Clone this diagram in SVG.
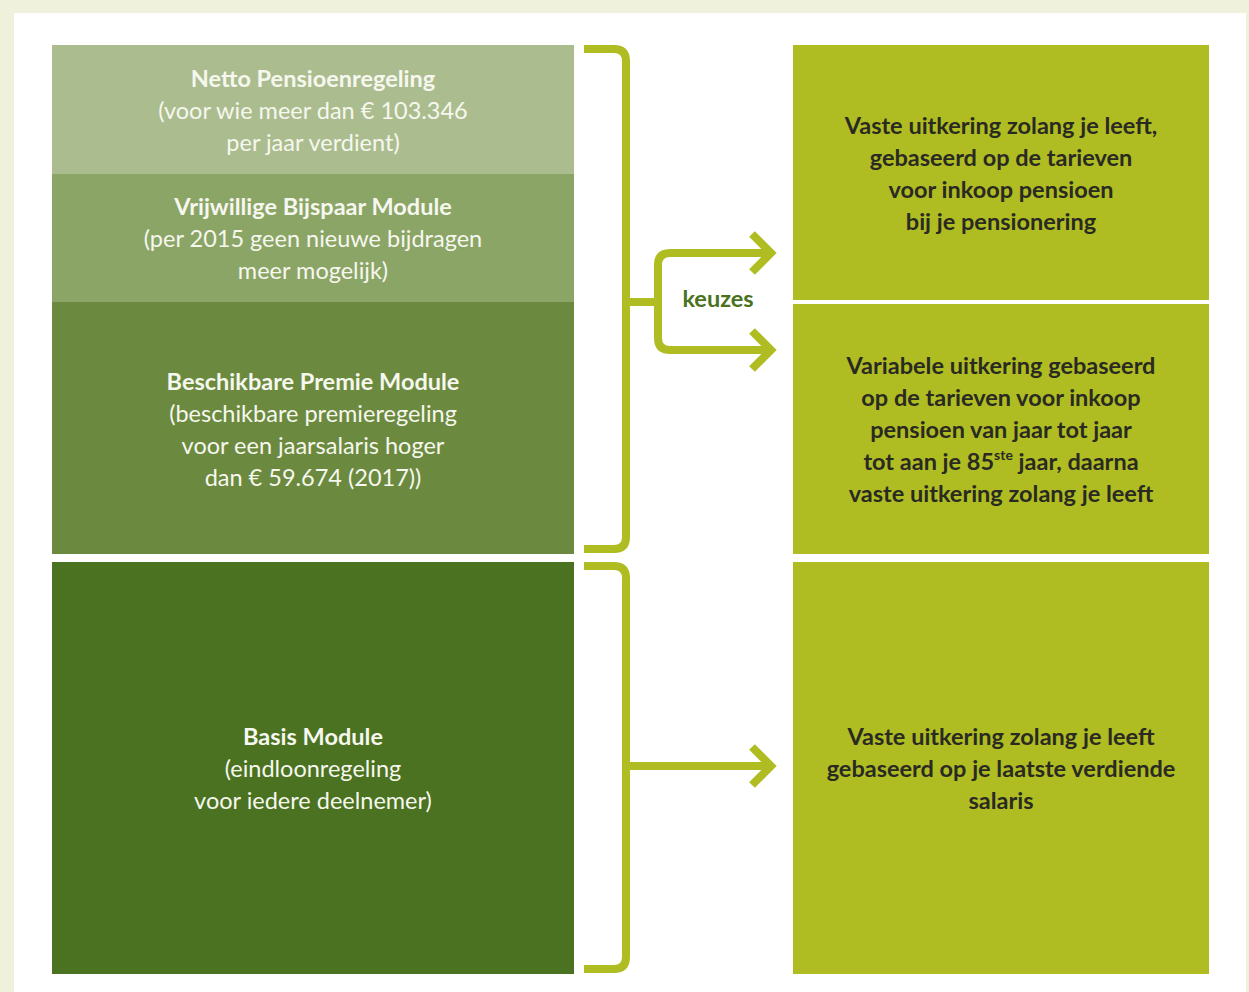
<svg xmlns="http://www.w3.org/2000/svg" width="1249" height="992" viewBox="0 0 1249 992">
<style>
.lt{font-family:Lato,"Open Sans","Liberation Sans",sans-serif;font-size:23.5px;fill:#f6f7ee;text-anchor:middle}
.rt{font-family:Lato,"Open Sans","Liberation Sans",sans-serif;font-size:23.5px;font-weight:bold;fill:#2a2a22;text-anchor:middle}
.b{font-weight:bold}
.con{fill:none;stroke:#afbd22;stroke-width:8;stroke-linejoin:miter}
.rb{fill:#afbd22}
</style>
<rect x="0" y="0" width="1249" height="992" fill="#eff1dc"/>
<rect x="14" y="13" width="1232" height="979" fill="#ffffff"/>
<g id="netto">
<rect x="52" y="45" width="522" height="129" fill="#abbd8f"/>
<text class="lt"><tspan class="b" x="313" y="87">Netto Pensioenregeling</tspan><tspan x="313" y="119">(voor wie meer dan € 103.346</tspan><tspan x="313" y="151">per jaar verdient)</tspan></text>
</g>
<g id="vrijwillig">
<rect x="52" y="174" width="522" height="128" fill="#8ba567"/>
<text class="lt"><tspan class="b" x="313" y="215">Vrijwillige Bijspaar Module</tspan><tspan x="313" y="247">(per 2015 geen nieuwe bijdragen</tspan><tspan x="313" y="279">meer mogelijk)</tspan></text>
</g>
<g id="premie">
<rect x="52" y="302" width="522" height="252" fill="#6b8a3f"/>
<text class="lt"><tspan class="b" x="313" y="390">Beschikbare Premie Module</tspan><tspan x="313" y="422">(beschikbare premieregeling</tspan><tspan x="313" y="454">voor een jaarsalaris hoger</tspan><tspan x="313" y="486">dan € 59.674 (2017))</tspan></text>
</g>
<g id="basis">
<rect x="52" y="562" width="522" height="412" fill="#4a7220"/>
<text class="lt"><tspan class="b" x="313" y="745">Basis Module</tspan><tspan x="313" y="777">(eindloonregeling</tspan><tspan x="313" y="809">voor iedere deelnemer)</tspan></text>
</g>
<g id="vast1">
<rect class="rb" x="793" y="45" width="416" height="255"/>
<text class="rt"><tspan x="1001" y="134">Vaste uitkering zolang je leeft,</tspan><tspan x="1001" y="166">gebaseerd op de tarieven</tspan><tspan x="1001" y="198">voor inkoop pensioen</tspan><tspan x="1001" y="230">bij je pensionering</tspan></text>
</g>
<g id="variabel">
<rect class="rb" x="793" y="304" width="416" height="250"/>
<text class="rt"><tspan x="1001" y="374">Variabele uitkering gebaseerd</tspan><tspan x="1001" y="406">op de tarieven voor inkoop</tspan><tspan x="1001" y="438">pensioen van jaar tot jaar</tspan><tspan x="1001" y="470">tot aan je 85<tspan font-size="14" dy="-10">ste</tspan><tspan dy="10"> jaar, daarna</tspan></tspan><tspan x="1001" y="502">vaste uitkering zolang je leeft</tspan></text>
</g>
<g id="vast2">
<rect class="rb" x="793" y="562" width="416" height="412"/>
<text class="rt"><tspan x="1001" y="745">Vaste uitkering zolang je leeft</tspan><tspan x="1001" y="777">gebaseerd op je laatste verdiende</tspan><tspan x="1001" y="809">salaris</tspan></text>
</g>
<g id="connectors">
<path class="con" d="M584 49 H614 Q626 49 626 61 V537 Q626 549 614 549 H584"/>
<path class="con" d="M626 302 H658"/>
<path class="con" d="M771 253 H670 Q658 253 658 265 V338 Q658 350 670 350 H771"/>
<path class="con" d="M752 234 L771 253 L752 272"/>
<path class="con" d="M752 331 L771 350 L752 369"/>
<path class="con" d="M584 566 H614 Q626 566 626 578 V957 Q626 969 614 969 H584"/>
<path class="con" d="M626 766 H771"/>
<path class="con" d="M752 747 L771 766 L752 785"/>
<text x="718" y="307" font-family="Lato,'Open Sans','Liberation Sans',sans-serif" font-size="23.5" font-weight="bold" fill="#4a7220" text-anchor="middle">keuzes</text>
</g>
</svg>
